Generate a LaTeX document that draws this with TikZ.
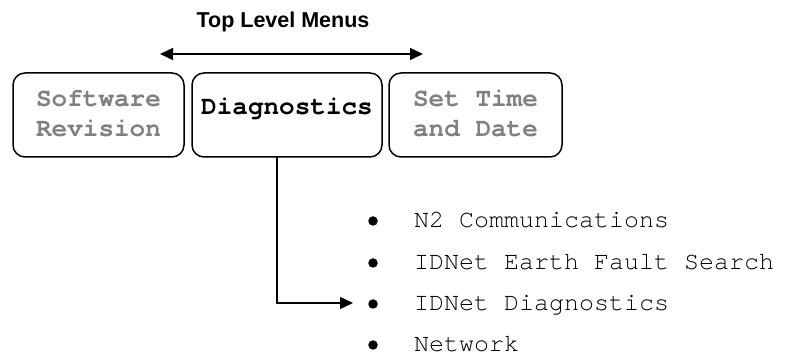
\documentclass[tikz,border=0pt]{standalone}
\usepackage{fontspec}
\setmainfont{Liberation Sans}
\newfontfamily\monofont{TeX Gyre Cursor}
\usetikzlibrary{arrows.meta}
\definecolor{greytext}{HTML}{808080}
\tikzset{
  menubox/.style={draw=black, line width=1.5pt, rounded corners=12pt, minimum height=84pt, inner sep=0pt},
  boxtext/.style={font=\monofont\bfseries\fontsize{26}{30}\selectfont, align=center, inner sep=0pt, anchor=base},
  listtext/.style={font=\monofont\fontsize{25}{30}\selectfont, anchor=base west, inner sep=0pt},
  bulletdot/.style={circle, fill=black, minimum size=9.5pt, inner sep=0pt},
  conn/.style={line width=1.5pt, -{Triangle[length=13pt,width=12pt]}},
}
\begin{document}
\begin{tikzpicture}[x=1pt,y=-1pt]
\useasboundingbox (0,0) rectangle (807,358);
\node[font=\bfseries\fontsize{21.5}{24}\selectfont] (title) at (283,22) {Top Level Menus};
\coordinate (la) at (160,54);
\coordinate (ra) at (423,54);
\draw[line width=1.5pt, {Triangle[length=13pt,width=12pt]}-{Triangle[length=13pt,width=12pt]}] (la) -- (ra);

\node[menubox, minimum width=171pt] (sw) at (98.5,115) {};
\node[menubox, minimum width=190pt] (dg) at (287,115) {};
\node[menubox, minimum width=173pt] (st) at (475.5,115) {};
\node[boxtext, text=greytext] (swt) at (98.5,137) {Software\\Revision};
\node[boxtext, text=black] (dgt) at (287,115) {Diagnostics};
\node[boxtext, text=greytext] (stt) at (475.5,137) {Set Time\\and Date};

\node[bulletdot] (b1) at (373,221) {};
\node[bulletdot] (b2) at (373,263) {};
\node[bulletdot] (b3) at (373,304) {};
\node[bulletdot] (b4) at (373,345) {};
\node[listtext] (l1) at (414,228) {N2 Communications};
\node[listtext] (l2) at (414,270) {IDNet Earth Fault Search};
\node[listtext] (l3) at (414,311) {IDNet Diagnostics};
\node[listtext] (l4) at (414,352) {Network};

\coordinate (down) at (277,157);
\coordinate (tip) at (353,303);
\draw[conn] (down) -- (down |- tip) -- (tip);
\end{tikzpicture}
\end{document}
